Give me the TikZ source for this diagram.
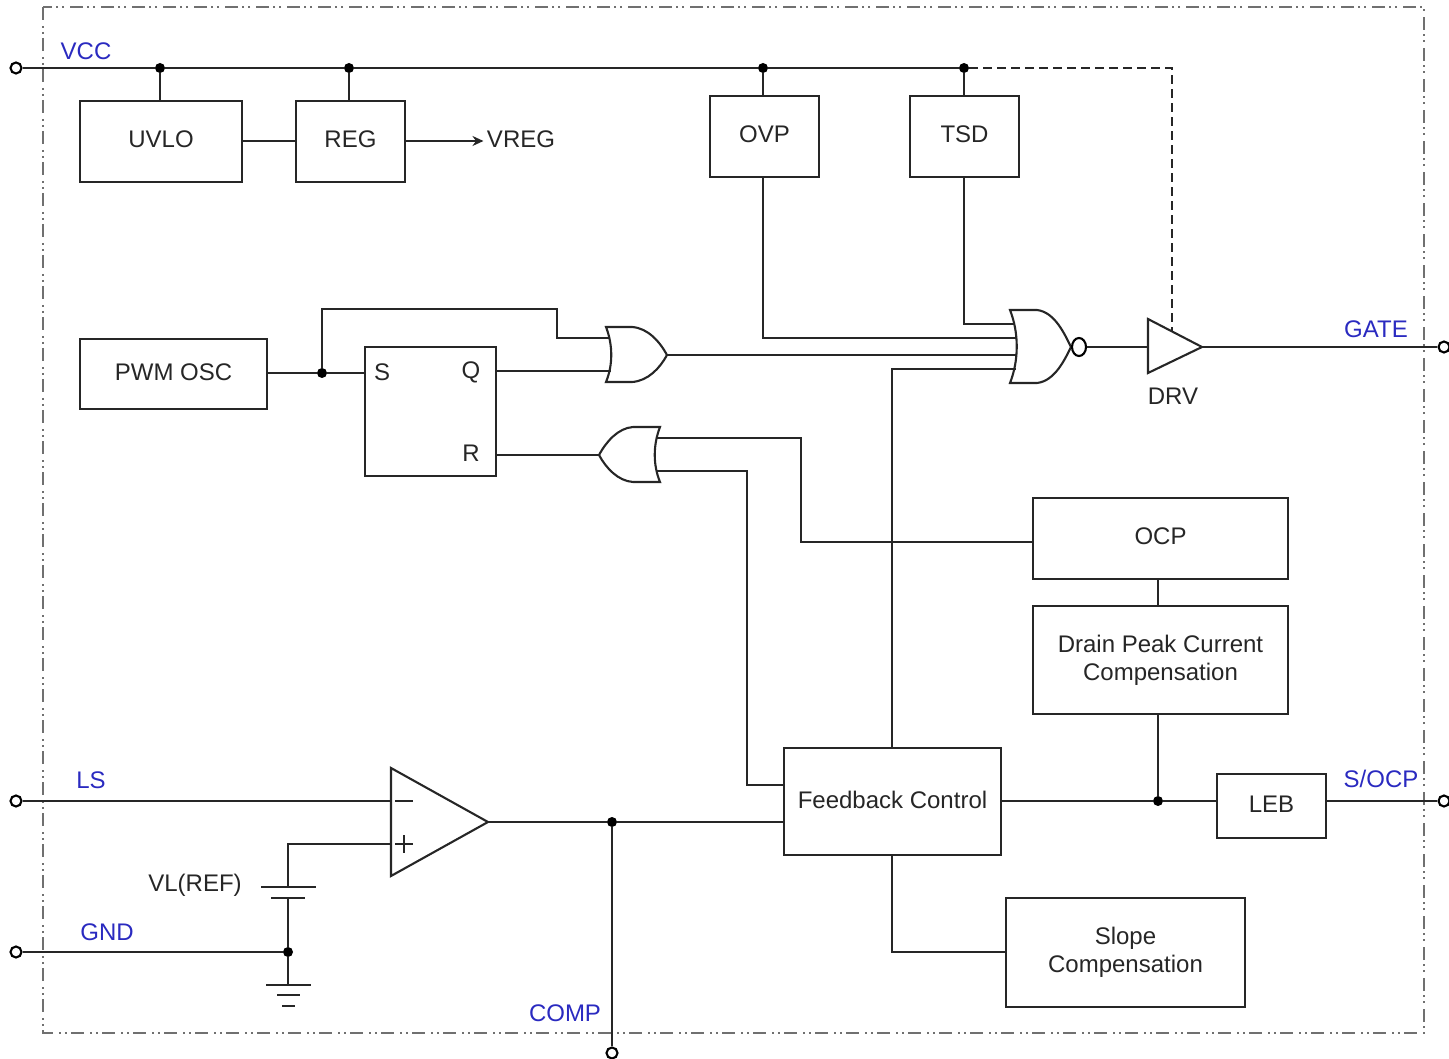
\documentclass[tikz,border=0pt]{standalone}
\usepackage{fontspec}
\usetikzlibrary{shapes.geometric, arrows.meta}
\setmainfont{Liberation Sans}
\definecolor{pinblue}{HTML}{2A2AC0}
\definecolor{frameline}{HTML}{707070}
\tikzset{
  wire/.style={line width=2.1pt, black!85},
  block/.style={draw, line width=2.1pt, black!85, inner sep=0pt, outer sep=0pt, align=center, font=\fontsize{24}{28}\selectfont, text=black!85},
  oneline/.style={block, text depth=4pt},
  dot/.style={circle, fill=black, inner sep=0pt, minimum size=10pt},
  pin/.style={circle, draw, line width=2.1pt, fill=white, inner sep=0pt, minimum size=11pt},
  pinlabel/.style={text=pinblue, font=\fontsize{24}{28}\selectfont},
  tag/.style={text=black!85, font=\fontsize{24}{28}\selectfont},
}
\begin{document}
\begin{tikzpicture}[x=1pt, y=-1pt]
   \useasboundingbox (0,0) rectangle (1449,1059);
   % Chip outline
   \draw[frameline, line width=1.8pt, dash pattern=on 13pt off 6pt on 2pt off 4pt on 2pt off 4pt] (43,7) rectangle (1424,1033);

   % Pins
   \node[pin] (vcc) at (16,68) {};
   \node[pin] (ls) at (16,801) {};
   \node[pin] (gnd) at (16,952) {};
   \node[pin] (comp) at (612,1053) {};
   \node[pin] (gate) at (1444,347) {};
   \node[pin] (socp) at (1444,801) {};
   \node[pinlabel] at (86,51) {VCC};
   \node[pinlabel] at (91,780) {LS};
   \node[pinlabel] at (107,932) {GND};
   \node[pinlabel] at (565,1013) {COMP};
   \node[pinlabel] at (1376,329) {GATE};
   \node[pinlabel] at (1381,778.5) {S/OCP};

   % Blocks
   \node[oneline, minimum width=162pt, minimum height=81pt] (uvlo) at (161,141.5) {UVLO};
   \node[oneline, minimum width=109pt, minimum height=81pt] (reg) at (350.5,141.5) {REG};
   \node[oneline, minimum width=109pt, minimum height=81pt] (ovp) at (764.5,136.5) {OVP};
   \node[oneline, minimum width=109pt, minimum height=81pt] (tsd) at (964.5,136.5) {TSD};
   \node[oneline, minimum width=187pt, minimum height=70pt] (osc) at (173.5,374) {PWM OSC};
   \node[block, minimum width=131pt, minimum height=129pt] (sr) at (430.5,411.5) {};
   \node[oneline, minimum width=255pt, minimum height=81pt] (ocp) at (1160.5,538.5) {OCP};
   \node[block, minimum width=255pt, minimum height=108pt] (peak) at (1160.5,660) {Drain Peak Current\\Compensation};
   \node[oneline, minimum width=217pt, minimum height=107pt] (fb) at (892.5,801.5) {Feedback Control};
   \node[oneline, minimum width=109pt, minimum height=64pt] (leb) at (1271.5,806) {LEB};
   \node[block, minimum width=239pt, minimum height=109pt] (slope) at (1125.5,952.5) {Slope\\Compensation};
   \node[tag] at (382,372) {S};
   \node[tag] at (471,372) {Q};
   \node[tag] at (471,453) {R};
   \node[tag] (vreg) at (521,139.5) {VREG};
   \node[tag] at (1173,396) {DRV};
   \node[tag] at (195,885) {VL(REF)};

   % Gates
   \draw[wire] (606,327) -- (632,327) .. controls (648,328) and (660,342) .. (667,355)
      .. controls (660,368) and (648,381) .. (632,382) -- (606,382) .. controls (613,365) and (613,345) .. cycle;
   \draw[wire] (660,427) -- (633,427) .. controls (618,428) and (606,442) .. (599,455)
      .. controls (606,468) and (618,481) .. (633,482) -- (660,482) .. controls (653,465) and (653,445) .. cycle;
   \draw[wire] (1010,310) -- (1037,310) .. controls (1055,312) and (1065,335) .. (1071,347)
      .. controls (1065,359) and (1055,381) .. (1037,383) -- (1010,383) .. controls (1019,360) and (1019,333) .. cycle;
   \node[draw, ellipse, line width=2.1pt, inner sep=0pt, minimum width=14pt, minimum height=18pt] (bubble) at (1079,347) {};
   \draw[wire] (1148,319) -- (1202,347) -- (1148,373) -- cycle;
   \draw[wire] (391,768) -- (488,822) -- (391,876) -- cycle;
   \coordinate (drvin) at (1148,347);
   \coordinate (drvout) at (1202,347);
   \coordinate (drvtop) at (1172,331);
   \coordinate (or1out) at (667,355);
   \coordinate (or2out) at (599,455);
   \coordinate (ampout) at (488,822);

   % Junctions
   \node[dot] (j1) at (160,68) {};
   \node[dot] (j2) at (349,68) {};
   \node[dot] (j3) at (763,68) {};
   \node[dot] (j4) at (964,68) {};
   \node[dot] (j5) at (322,373) {};
   \node[dot] (j6) at (1158,801) {};
   \node[dot] (j7) at (612,822) {};
   \node[dot] (j8) at (288,952) {};

   % Supply rail
   \draw[wire] (vcc) -- (j1) -- (j2) -- (j3) -- (j4);
   \draw[wire] (j1) -- (j1 |- uvlo.north);
   \draw[wire] (j2) -- (j2 |- reg.north);
   \draw[wire] (j3) -- (j3 |- ovp.north);
   \draw[wire] (j4) -- (j4 |- tsd.north);
   \draw[black!85, line width=1.3pt, dash pattern=on 9pt off 5pt] (j4) -| (drvtop);
   \draw[wire] (uvlo.east |- 0,141) -- (reg.west |- 0,141);
   \draw[wire, -{Stealth[length=11pt, width=10pt]}] (reg.east |- 0,141) -- (vreg.west |- 0,141);

   % Logic path
   \draw[wire] (osc.east |- j5) -- (j5) -- (sr.west |- j5);
   \draw[wire] (j5) -- (322,309) -- (557,309) -- (557,338) -- (610,338);
   \draw[wire] (sr.east |- 0,371) -- (611,371);
   \draw[wire] (sr.east |- or2out) -- (or2out);
   \draw[wire] (or1out) -- (1017,355);
   \draw[wire] (ovp.south -| j3) -- (763,338) -- (1016,338);
   \draw[wire] (tsd.south -| j4) -- (964,324) -- (1014,324);
   \draw[wire] (892,748) -- (892,369) -- (1016,369);
   \draw[wire] (ocp.west |- 0,542) -- (801,542) -- (801,438) -- (656,438);
   \draw[wire] (fb.west |- 0,785) -- (747,785) -- (747,471) -- (656,471);
   \draw[wire] (bubble) -- (drvin);
   \draw[wire] (drvout) -- (gate);

   % Current sense
   \draw[wire] (ocp.south -| j6) -- (peak.north -| j6);
   \draw[wire] (peak.south -| j6) -- (j6);
   \draw[wire] (fb.east |- j6) -- (j6) -- (leb.west |- j6);
   \draw[wire] (leb.east |- socp) -- (socp);
   \draw[wire] (892,855) -- (892,952) -- (slope.west |- 0,952);

   % Comparator and reference
   \draw[wire] (ls) -- (391,801);
   \draw[wire] (395,801) -- (413,801);
   \draw[wire] (395,844) -- (413,844) (404,835) -- (404,853);
   \draw[wire] (391,844) -- (288,844) -- (288,887);
   \draw[wire] (261,887) -- (316,887) (271,898) -- (305,898);
   \draw[wire] (288,898) -- (j8);
   \draw[wire] (gnd) -- (j8);
   \draw[wire] (j8) -- (288,985);
   \draw[wire] (266,985) -- (311,985) (277,995) -- (300,995) (282,1006) -- (295,1006);
   \draw[wire] (ampout) -- (j7) -- (fb.west |- j7);
   \draw[wire] (j7) -- (comp);
\end{tikzpicture}
\end{document}
